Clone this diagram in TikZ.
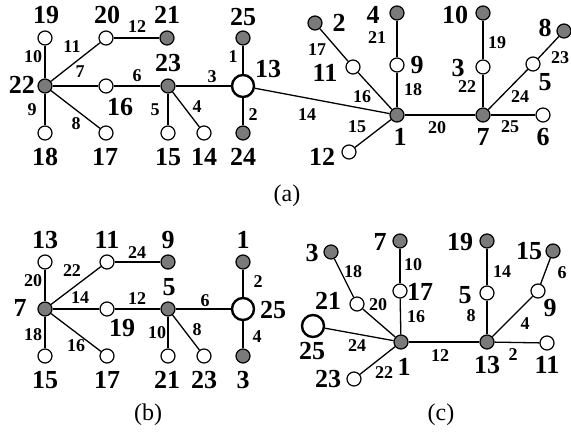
\documentclass[tikz,border=0pt]{standalone}
\usepackage{fontspec}
\setmainfont{Liberation Serif}
\definecolor{nodegray}{RGB}{122,122,122}
\tikzset{
 wn/.style={circle,draw,fill=white,minimum size=14pt,inner sep=0pt,line width=1.2pt},
 gn/.style={wn,fill=nodegray},
 bn/.style={circle,draw,fill=white,minimum size=22pt,inner sep=0pt,line width=2.4pt},
 nl/.style={font=\fontsize{26}{26}\selectfont\bfseries,inner sep=0pt},
 el/.style={font=\fontsize{18}{18}\selectfont\bfseries,inner sep=0pt},
 capt/.style={font=\fontsize{24}{24}\selectfont,inner sep=0pt},
 edg/.style={line width=1.3pt}
}
\begin{document}
\begin{tikzpicture}[x=1pt,y=-1pt]
\useasboundingbox (0,0) rectangle (571,439);
% ---------------- (a) ----------------
\node[wn] (a19) at (45,38) {};
\node[wn] (a20) at (106,38) {};
\node[gn] (a21) at (167,38) {};
\node[gn] (a22) at (45,86) {};
\node[wn] (a16) at (106,86) {};
\node[gn] (a23) at (168,86) {};
\node[wn] (a18) at (45,133) {};
\node[wn] (a17) at (106,133) {};
\node[wn] (a15) at (168,133) {};
\node[wn] (a14) at (204,133) {};
\node[bn] (a13) at (243,86) {};
\node[gn] (a25) at (243,38) {};
\node[gn] (a24) at (243,133) {};
\node[gn] (a2) at (315,23) {};
\node[wn] (a11) at (353,67) {};
\node[gn] (a1) at (397,115) {};
\node[gn] (a4) at (397,13) {};
\node[wn] (a9) at (397,65) {};
\node[gn] (a10) at (483,13) {};
\node[wn] (a3) at (483,67) {};
\node[gn] (a7) at (483,115) {};
\node[gn] (a8) at (564,31) {};
\node[wn] (a5) at (533,64) {};
\node[wn] (a6) at (543,115) {};
\node[wn] (a12) at (349,152) {};
\draw[edg] (a22) -- (a19);
\draw[edg] (a22) -- (a20);
\draw[edg] (a20) -- (a21);
\draw[edg] (a22) -- (a16);
\draw[edg] (a16) -- (a23);
\draw[edg] (a22) -- (a18);
\draw[edg] (a22) -- (a17);
\draw[edg] (a23) -- (a15);
\draw[edg] (a23) -- (a14);
\draw[edg] (a23) -- (a13);
\draw[edg] (a13) -- (a25);
\draw[edg] (a13) -- (a24);
\draw[edg] (a13) -- (a1);
\draw[edg] (a2) -- (a11);
\draw[edg] (a11) -- (a1);
\draw[edg] (a12) -- (a1);
\draw[edg] (a4) -- (a9);
\draw[edg] (a9) -- (a1);
\draw[edg] (a1) -- (a7);
\draw[edg] (a10) -- (a3);
\draw[edg] (a3) -- (a7);
\draw[edg] (a8) -- (a5);
\draw[edg] (a5) -- (a7);
\draw[edg] (a7) -- (a6);
% node labels (a)
\node[nl] (la19) at (46,15) {19};
\node[nl] (la20) at (107,15) {20};
\node[nl] (la21) at (167,15) {21};
\node[nl] (la22) at (22,85) {22};
\node[nl] (la23) at (168,63) {23};
\node[nl] (la16) at (120,107) {16};
\node[nl] (la18) at (45,157) {18};
\node[nl] (la17) at (105,157) {17};
\node[nl] (la15) at (168,157) {15};
\node[nl] (la14) at (204,157) {14};
\node[nl] (la24) at (243,157) {24};
\node[nl] (la25) at (243,17) {25};
\node[nl] (la13) at (268,69) {13};
\node[nl] (la2) at (339,23) {2};
\node[nl] (la11) at (325,73) {11};
\node[nl] (la4) at (373,15) {4};
\node[nl] (la9) at (417,65) {9};
\node[nl] (la10) at (455,15) {10};
\node[nl] (la3) at (458,68) {3};
\node[nl] (la8) at (545,28) {8};
\node[nl] (la5) at (545,82) {5};
\node[nl] (la1) at (400,137) {1};
\node[nl] (la7) at (483,137) {7};
\node[nl] (la6) at (543,137) {6};
\node[nl] (la12) at (322,157) {12};
% edge labels (a)
\node[el] (ea10) at (33,57) {10};
\node[el] (ea11) at (72,47) {11};
\node[el] (ea12) at (137,27) {12};
\node[el] (ea7) at (80,72) {7};
\node[el] (ea6) at (137,76) {6};
\node[el] (ea9) at (32,110) {9};
\node[el] (ea8) at (76,124) {8};
\node[el] (ea5) at (155,110) {5};
\node[el] (ea4) at (197,107) {4};
\node[el] (ea3) at (212,77) {3};
\node[el] (ea1) at (233,57) {1};
\node[el] (ea2) at (253,115) {2};
\node[el] (ea14) at (307,115) {14};
\node[el] (ea17) at (317,50) {17};
\node[el] (ea16) at (362,97) {16};
\node[el] (ea15) at (357,127) {15};
\node[el] (ea21) at (377,38) {21};
\node[el] (ea18) at (413,90) {18};
\node[el] (ea20) at (437,128) {20};
\node[el] (ea19) at (497,43) {19};
\node[el] (ea22) at (467,87) {22};
\node[el] (ea23) at (560,58) {23};
\node[el] (ea24) at (520,97) {24};
\node[el] (ea25) at (510,127) {25};
\node[capt] (capa) at (287,196) {(a)};
% ---------------- (b) ----------------
\node[wn] (b13) at (45,262) {};
\node[wn] (b11) at (107,262) {};
\node[gn] (b9) at (168,262) {};
\node[gn] (b7) at (45,309) {};
\node[wn] (b19) at (107,309) {};
\node[gn] (b5) at (168,309) {};
\node[bn] (b25) at (243,309) {};
\node[gn] (b1) at (243,262) {};
\node[gn] (b3) at (243,356) {};
\node[wn] (b15) at (45,356) {};
\node[wn] (b17) at (107,356) {};
\node[wn] (b21) at (168,356) {};
\node[wn] (b23) at (204,356) {};
\draw[edg] (b7) -- (b13);
\draw[edg] (b7) -- (b11);
\draw[edg] (b11) -- (b9);
\draw[edg] (b7) -- (b19);
\draw[edg] (b19) -- (b5);
\draw[edg] (b5) -- (b25);
\draw[edg] (b7) -- (b15);
\draw[edg] (b7) -- (b17);
\draw[edg] (b5) -- (b21);
\draw[edg] (b5) -- (b23);
\draw[edg] (b1) -- (b25);
\draw[edg] (b25) -- (b3);
\node[nl] (lb13) at (45,240) {13};
\node[nl] (lb11) at (107,240) {11};
\node[nl] (lb9) at (168,240) {9};
\node[nl] (lb1) at (243,240) {1};
\node[nl] (lb7) at (20,308) {7};
\node[nl] (lb5) at (169,287) {5};
\node[nl] (lb19) at (122,328) {19};
\node[nl] (lb25) at (273,310) {25};
\node[nl] (lb15) at (45,380) {15};
\node[nl] (lb17) at (107,380) {17};
\node[nl] (lb21) at (167,380) {21};
\node[nl] (lb23) at (204,380) {23};
\node[nl] (lb3) at (243,380) {3};
\node[el] (eb20) at (33,281) {20};
\node[el] (eb22) at (72,271) {22};
\node[el] (eb24) at (137,253) {24};
\node[el] (eb14) at (80,298) {14};
\node[el] (eb12) at (137,299) {12};
\node[el] (eb6) at (205,301) {6};
\node[el] (eb18) at (33,335) {18};
\node[el] (eb16) at (76,346) {16};
\node[el] (eb10) at (157,333) {10};
\node[el] (eb8) at (197,330) {8};
\node[el] (eb2) at (258,282) {2};
\node[el] (eb4) at (257,337) {4};
\node[capt] (capb) at (148,415) {(b)};
% ---------------- (c) ----------------
\node[gn] (c3) at (331,252) {};
\node[gn] (c7) at (400,241) {};
\node[gn] (c19) at (487,241) {};
\node[gn] (c15) at (553,251) {};
\node[wn] (c21) at (357,304) {};
\node[wn] (c17) at (400,291) {};
\node[wn] (c5) at (487,293) {};
\node[wn] (c9) at (538,291) {};
\node[bn] (c25) at (313,326) {};
\node[gn] (c1) at (401,342) {};
\node[gn] (c13) at (487,342) {};
\node[wn] (c11) at (547,343) {};
\node[wn] (c23) at (354,379) {};
\draw[edg] (c3) -- (c21);
\draw[edg] (c21) -- (c1);
\draw[edg] (c7) -- (c17);
\draw[edg] (c17) -- (c1);
\draw[edg] (c19) -- (c5);
\draw[edg] (c5) -- (c13);
\draw[edg] (c15) -- (c9);
\draw[edg] (c9) -- (c13);
\draw[edg] (c25) -- (c1);
\draw[edg] (c1) -- (c13);
\draw[edg] (c13) -- (c11);
\draw[edg] (c23) -- (c1);
\node[nl] (lc3) at (312,253) {3};
\node[nl] (lc7) at (380,242) {7};
\node[nl] (lc19) at (460,242) {19};
\node[nl] (lc15) at (529,251) {15};
\node[nl] (lc21) at (328,301) {21};
\node[nl] (lc17) at (420,292) {17};
\node[nl] (lc5) at (465,295) {5};
\node[nl] (lc9) at (550,308) {9};
\node[nl] (lc25) at (312,351) {25};
\node[nl] (lc1) at (404,367) {1};
\node[nl] (lc13) at (487,365) {13};
\node[nl] (lc11) at (547,365) {11};
\node[nl] (lc23) at (328,379) {23};
\node[el] (ec18) at (353,272) {18};
\node[el] (ec20) at (378,305) {20};
\node[el] (ec10) at (413,265) {10};
\node[el] (ec16) at (416,317) {16};
\node[el] (ec14) at (502,272) {14};
\node[el] (ec8) at (471,316) {8};
\node[el] (ec6) at (562,273) {6};
\node[el] (ec4) at (525,324) {4};
\node[el] (ec24) at (357,346) {24};
\node[el] (ec12) at (440,356) {12};
\node[el] (ec2) at (513,355) {2};
\node[el] (ec22) at (384,373) {22};
\node[capt] (capc) at (441,415) {(c)};
\end{tikzpicture}
\end{document}
